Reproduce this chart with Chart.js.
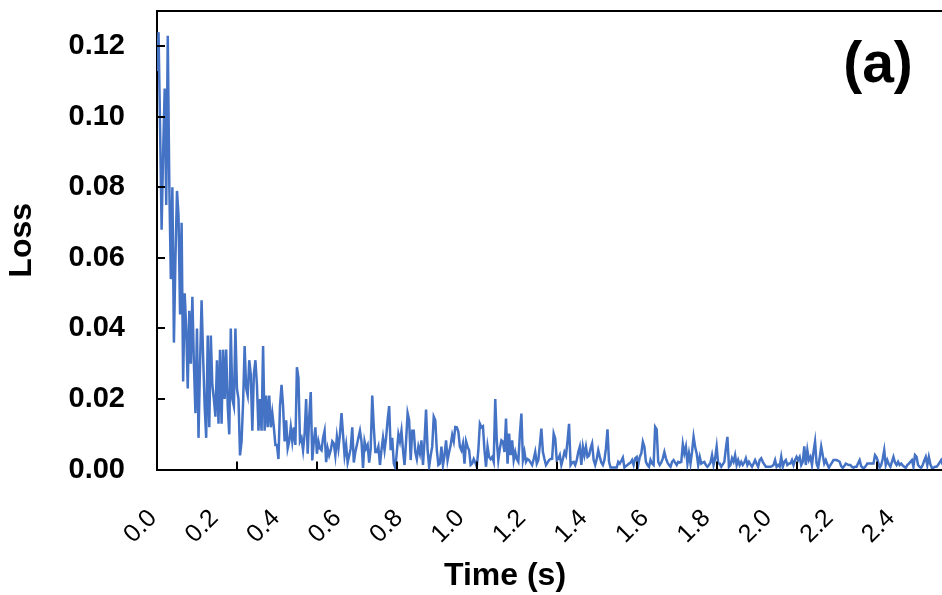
<!DOCTYPE html>
<html>
<head>
<meta charset="utf-8">
<script src="https://cdn.jsdelivr.net/npm/chart.js@4.4.1/dist/chart.umd.min.js"></script>
<style>
  html, body { margin: 0; padding: 0; background: #fff; overflow: hidden; width: 942px; height: 595px; }
  #wrap { position: relative; width: 1020px; height: 595px; }
  canvas { display: block; }
</style>
</head>
<body>
<div id="wrap"><canvas id="c" width="1020" height="595"></canvas></div>
<script>
// ---- data ----
const TIME_STEP = 0.005;          // sampling interval of the loss trace (s)
const loss1 = [ // 0.000 – 0.495 s
  0.113,0.124,0.097,0.068,0.090,0.108,0.075,0.123,0.081,0.054,
  0.080,0.036,0.060,0.079,0.072,0.044,0.070,0.025,0.050,0.040,
  0.023,0.045,0.030,0.049,0.030,0.016,0.040,0.009,0.030,0.048,
  0.032,0.018,0.009,0.038,0.012,0.038,0.024,0.020,0.015,0.031,
  0.013,0.034,0.013,0.034,0.020,0.034,0.018,0.010,0.040,0.020,
  0.018,0.040,0.023,0.020,0.004,0.008,0.019,0.035,0.023,0.021,
  0.031,0.027,0.011,0.027,0.031,0.024,0.011,0.020,0.011,0.035,
  0.011,0.021,0.012,0.021,0.012,0.016,0.012,0.007,0.007,0.003,
  0.018,0.024,0.018,0.008,0.014,0.006,0.008,0.012,0.008,0.012,
  0.007,0.029,0.026,0.008,0.009,0.0055,0.010,0.020,0.0045,0.015
];
const loss2 = [ // 0.500 – 0.995 s
  0.022,0.0026,0.008,0.012,0.0045,0.008,0.006,0.0055,0.009,0.011,
  0.0021,0.006,0.004,0.0055,0.008,0.0074,0.004,0.0093,0.006,0.010,
  0.016,0.010,0.004,0.007,0.002,0.004,0.006,0.012,0.002,0.005,
  0.007,0.009,0.011,0.008,0.0005,0.008,0.006,0.007,0.002,0.006,
  0.021,0.012,0.005,0.005,0.0065,0.0013,0.0055,0.009,0.0055,0.009,
  0.014,0.018,0.0055,0.009,0.0017,0.0005,0.005,0.010,0.008,0.011,
  0.0055,0.0013,0.008,0.016,0.014,0.0027,0.011,0.011,0.005,0.003,
  0.0065,0.0046,0.0083,0.0013,0.008,0.017,0.0055,0.0008,0.004,0.0065,
  0.015,0.014,0.0055,0.0013,0.0017,0.0065,0.0013,0.004,0.0083,0.0027,
  0.005,0.007,0.0098,0.008,0.0121,0.012,0.0107,0.0065,0.0055,0.0074
];
const loss3 = [ // 1.000 – 1.495 s
  0.0017,0.008,0.0065,0.0055,0.0013,0.0017,0.003,0.002,0.0008,0.0055,
  0.013,0.012,0.0123,0.0055,0.0008,0.0065,0.0036,0.003,0.0036,0.0022,
  0.020,0.0083,0.0027,0.006,0.0083,0.0079,0.005,0.0145,0.0017,0.0102,
  0.0041,0.0083,0.0027,0.005,0.003,0.0022,0.010,0.0159,0.0027,0.005,
  0.0022,0.003,0.0027,0.002,0.0013,0.003,0.005,0.0017,0.0027,0.007,
  0.0116,0.005,0.003,0.0013,0.002,0.0027,0.003,0.0031,0.0102,0.0088,
  0.0027,0.003,0.0041,0.0013,0.003,0.005,0.004,0.008,0.013,0.0013,
  0.002,0.0022,0.0013,0.0027,0.005,0.0065,0.0013,0.0065,0.0041,0.0065,
  0.0036,0.004,0.006,0.0074,0.0027,0.0013,0.003,0.0055,0.0036,0.002,
  0.0013,0.0027,0.006,0.0114,0.0022,0.0006,0.0006,0.0006,0.0006,0.0006
];
const loss4 = [ // 1.500 – 1.995 s
  0.0022,0.0017,0.0025,0.0034,0.0006,0.001,0.0013,0.0017,0.002,0.0027,
  0.0013,0.0032,0.0036,0.0013,0.0036,0.0046,0.0079,0.0065,0.0022,0.0013,
  0.0008,0.0027,0.0017,0.0013,0.0121,0.0114,0.0022,0.0013,0.002,0.0032,
  0.005,0.0032,0.002,0.0013,0.0008,0.0022,0.0027,0.002,0.0013,0.0022,
  0.002,0.0022,0.0072,0.0046,0.0065,0.0017,0.0046,0.0017,0.005,0.0093,
  0.0065,0.0046,0.0013,0.0036,0.0017,0.002,0.0022,0.0013,0.0008,0.0013,
  0.002,0.0041,0.0013,0.0032,0.0065,0.0017,0.0017,0.0008,0.0015,0.0022,
  0.006,0.0093,0.0008,0.0013,0.0032,0.0022,0.0041,0.0013,0.0027,0.0013,
  0.0022,0.0013,0.002,0.0032,0.0013,0.0022,0.0015,0.0008,0.0017,0.0027,
  0.0017,0.0008,0.0027,0.0032,0.0022,0.0015,0.0008,0.0008,0.0008,0.0008
];
const loss5 = [ // 2.000 – 2.560 s
  0.001,0.0013,0.0027,0.0008,0.0013,0.0008,0.0036,0.0008,0.0022,0.0027,
  0.0013,0.0017,0.0017,0.0027,0.0013,0.0027,0.0036,0.0027,0.0036,0.0013,
  0.0022,0.0066,0.0013,0.0055,0.0027,0.0036,0.0013,0.005,0.0079,0.0017,
  0.0005,0.0032,0.0065,0.0041,0.0017,0.0027,0.0015,0.0005,0.0013,0.002,
  0.0027,0.0027,0.0027,0.0025,0.0022,0.001,0.0005,0.001,0.0017,0.0015,
  0.0013,0.0013,0.0008,0.0005,0.0008,0.0008,0.0018,0.0027,0.001,0.0005,
  0.0005,0.001,0.0017,0.0017,0.0017,0.0017,0.0017,0.0041,0.0035,0.0022,
  0.0005,0.0013,0.003,0.0055,0.0013,0.0027,0.0015,0.0008,0.0022,0.0036,
  0.002,0.0013,0.0022,0.0013,0.0017,0.0012,0.0008,0.0005,0.0013,0.0017,
  0.0022,0.0027,0.0008,0.0041,0.0036,0.0013,0.0008,0.0005,0.0013,0.0025,
  0.0036,0.0013,0.0036,0.0015,0.0005,0.0005,0.0008,0.0008,0.0013,0.002,
  0.0027,0.0015,0.001
];
const yTicks = [0.00, 0.02, 0.04, 0.06, 0.08, 0.10, 0.12];
const xTicks = [0.0, 0.2, 0.4, 0.6, 0.8, 1.0, 1.2, 1.4, 1.6, 1.8, 2.0, 2.2, 2.4];
const xMinorStep = 0.26;          // spacing of the small inner tick marks on the time axis
const X_MAX = 2.774;
const Y_MAX = 0.13;
const X_TITLE = 'Time (s)';
const Y_TITLE = 'Loss';
const PANEL_LABEL = '(a)';

// ---- build dataset ----
const loss = [].concat(loss1, loss2, loss3, loss4, loss5);
const times = loss.map((_, i) => +(i * TIME_STEP).toFixed(3));
const points = loss.map((v, i) => ({ x: times[i], y: v }));

const FAMILY = '"Liberation Sans", Arial, Helvetica, sans-serif';

const innerTicks = {
  id: 'innerTicks',
  afterDatasetsDraw(chart) {
    const { ctx, chartArea: a, scales: { x, y } } = chart;
    ctx.save();
    ctx.strokeStyle = '#000';
    ctx.lineWidth = 2;
    ctx.beginPath();
    yTicks.forEach(v => {
      if (v === 0) return;
      const py = Math.round(y.getPixelForValue(v));
      ctx.moveTo(a.left, py);
      ctx.lineTo(a.left + 8, py);
    });
    for (let k = 1; k * xMinorStep <= x.max; k++) {
      const px = Math.round(x.getPixelForValue(k * xMinorStep));
      ctx.moveTo(px, a.bottom);
      ctx.lineTo(px, a.bottom - 8);
    }
    ctx.stroke();
    ctx.restore();
  }
};

const panelLabel = {
  id: 'panelLabel',
  afterDraw(chart) {
    const { ctx, chartArea: a } = chart;
    ctx.save();
    ctx.font = 'bold 57px ' + FAMILY;
    ctx.fillStyle = '#000';
    ctx.textAlign = 'center';
    ctx.textBaseline = 'middle';
    ctx.fillText(PANEL_LABEL, a.left + 721, a.top + 55);
    ctx.restore();
  }
};

new Chart(document.getElementById('c'), {
  type: 'line',
  data: {
    datasets: [{
      data: points,
      borderColor: '#4472C4',
      backgroundColor: '#4472C4',
      borderWidth: 2.5,
      pointRadius: 0,
      tension: 0,
      fill: false
    }]
  },
  options: {
    responsive: false,
    animation: false,
    devicePixelRatio: 1,
    layout: { padding: { left: 0, right: 10, top: 11, bottom: 0 } },
    plugins: {
      legend: { display: false },
      tooltip: { enabled: false },
      title: {
        display: true,
        text: X_TITLE,
        position: 'bottom',
        align: 'center',
        color: '#000',
        font: { family: FAMILY, size: 32, weight: 'bold', lineHeight: 1.2 },
        padding: { top: 0, bottom: 0 }
      }
    },
    scales: {
      x: {
        type: 'linear',
        position: 'bottom',
        min: 0,
        max: X_MAX,
        grid: { display: false, drawTicks: false },
        border: { display: true, color: '#000', width: 2 },
        ticks: {
          autoSkip: false,
          minRotation: 45,
          maxRotation: 45,
          padding: 34,
          labelOffset: -4,
          color: '#000',
          font: { family: FAMILY, size: 25 },
          callback: v => Number(v).toFixed(1)
        },
        afterBuildTicks: s => { s.ticks = xTicks.map(v => ({ value: v })); },
        afterFit: s => { s.height = 87; }
      },
      xTop: {
        type: 'linear',
        position: 'top',
        min: 0,
        max: X_MAX,
        grid: { display: false, drawTicks: false },
        border: { display: true, color: '#000', width: 2 },
        ticks: { display: false },
        afterFit: s => { s.height = 0; s.paddingLeft = 0; s.paddingRight = 0; }
      },
      y: {
        min: 0,
        max: Y_MAX,
        grid: { display: false, drawTicks: false },
        border: { display: true, color: '#000', width: 2 },
        ticks: {
          padding: 32,
          color: '#000',
          font: { family: FAMILY, size: 29, weight: 'bold' },
          callback: v => Number(v).toFixed(2)
        },
        afterBuildTicks: s => { s.ticks = yTicks.map(v => ({ value: v })); },
        afterFit: s => { s.width = 157; s.paddingTop = 0; s.paddingBottom = 0; },
        title: {
          display: true,
          text: Y_TITLE,
          color: '#000',
          font: { family: FAMILY, size: 32, weight: 'bold', lineHeight: 1.2 },
          padding: { top: 3, bottom: 0 }
        }
      }
    }
  },
  plugins: [innerTicks, panelLabel]
});
</script>
</body>
</html>
